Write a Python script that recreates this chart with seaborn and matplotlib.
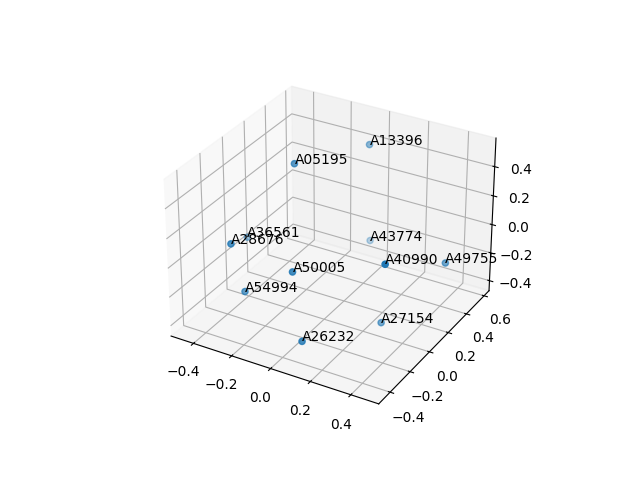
''' Projecao 3D das amostras '''

import matplotlib
matplotlib.use("Agg")
import matplotlib.pyplot as plt
import seaborn as sns

labels = ["A13396", "A05195", "A36561", "A28676", "A43774", "A40990",
          "A49755", "A50005", "A54994", "A27154", "A26232"]
x_values = [-0.040, -0.161, -0.452, -0.261, -0.057, 0.444, 0.468, 0.020, -0.225, 0.274, 0.120]
y_values = [0.532, 0.024, 0.088, -0.386, 0.583, -0.281, 0.294, -0.335, -0.335, 0.037, -0.437]
z_values = [0.417, 0.525, -0.127, 0.191, -0.298, 0.270, -0.072, 0.082, -0.152, -0.405, -0.282]


def main():
    color = sns.color_palette("tab10")[0]
    fig = plt.figure(figsize=(6.4, 4.8), dpi=100)
    ax = fig.add_subplot(projection="3d")
    ax.scatter(x_values, y_values, z_values, color=color)
    for label, x, y, z in zip(labels, x_values, y_values, z_values):
        ax.text(x, y, z, label)
    fig.savefig("out.png", dpi=100)


if __name__ == "__main__":
    main()
